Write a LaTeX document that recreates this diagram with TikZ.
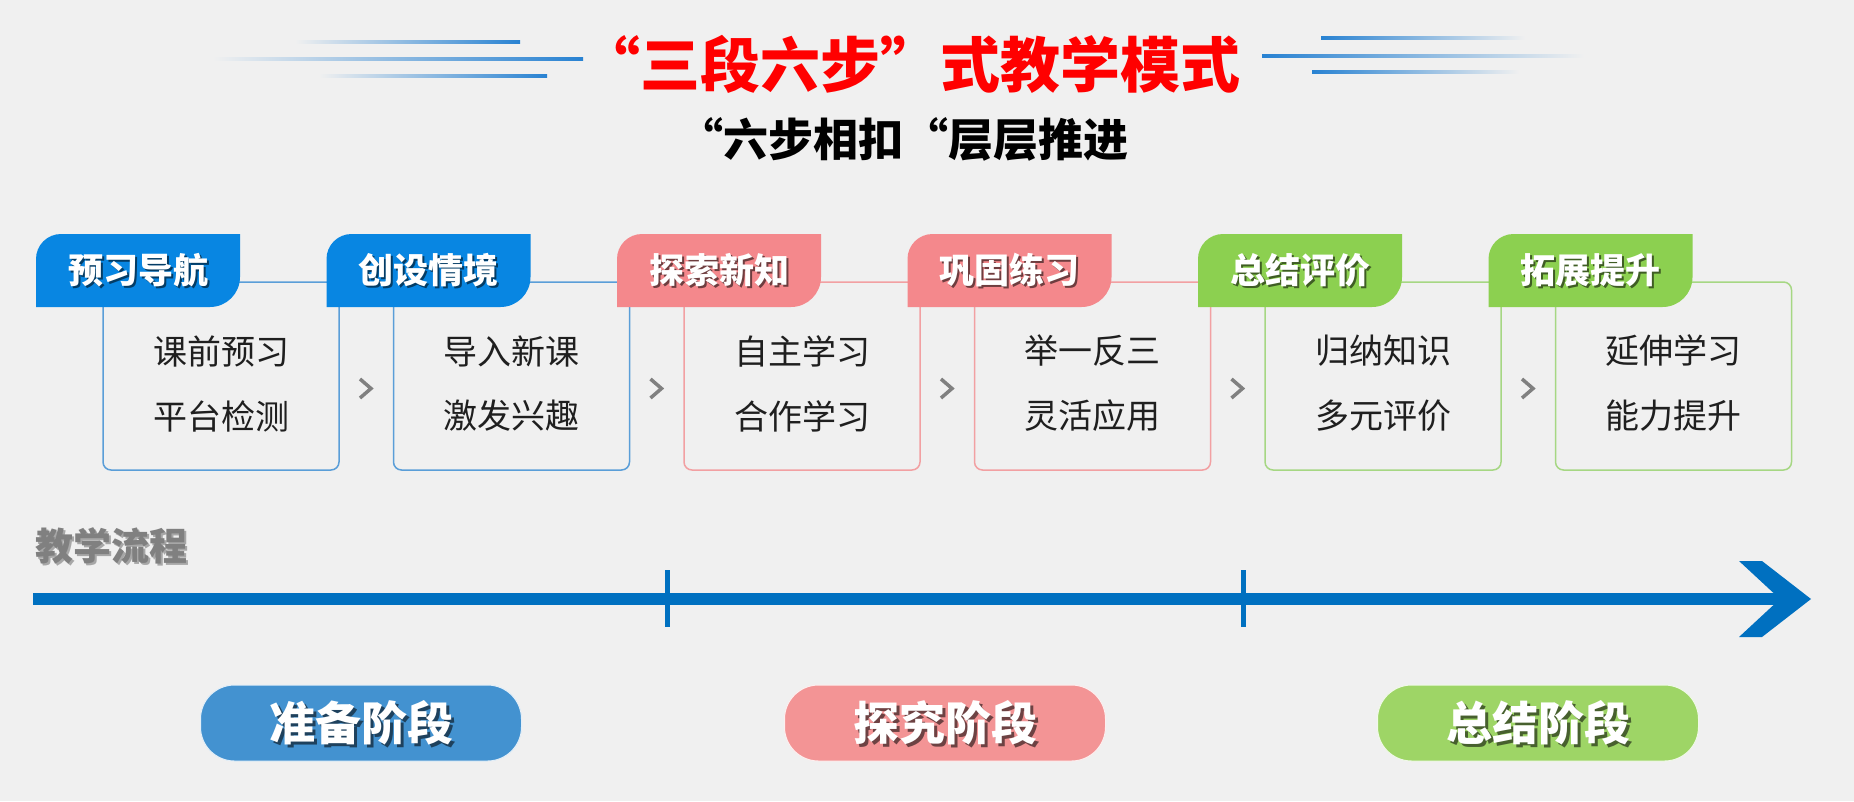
\documentclass[tikz,border=0pt]{standalone}
\usepackage{fontspec}
\newfontfamily\cjk{Noto Sans CJK SC}
\newfontfamily\cjkq{Noto Sans CJK SC}[RawFeature=+fwid]
\usetikzlibrary{calc}
\definecolor{bg}{RGB}{240,240,240}
\definecolor{tabblue}{RGB}{8,134,226}
\definecolor{tabpink}{RGB}{244,136,140}
\definecolor{tabgreen}{RGB}{140,208,80}
\definecolor{lnblue}{RGB}{90,158,216}
\definecolor{lnpink}{RGB}{242,160,162}
\definecolor{lngreen}{RGB}{166,215,131}
\definecolor{pillblue}{RGB}{67,146,208}
\definecolor{pillpink}{RGB}{243,148,149}
\definecolor{pillgreen}{RGB}{158,213,102}
\definecolor{axisblue}{RGB}{0,112,192}
\definecolor{decoblue}{RGB}{40,130,210}
\tikzset{
  txt/.style={inner sep=0pt, outer sep=0pt},
  tabfont/.style={font=\cjk\bfseries\fontsize{35}{35}\selectfont},
  bodyfont/.style={font=\cjk\fontsize{34}{34}\selectfont, text=black!88},
  pillfont/.style={font=\cjk\bfseries\fontsize{46}{46}\selectfont},
  shadowtxt/.style={text=black, text opacity=0.55},
  stepbox/.style={draw, line width=1.5pt, rounded corners=8pt, minimum width=236pt, minimum height=188pt, fill=none},
  pill/.style={minimum width=321pt, minimum height=76pt, rounded corners=34pt},
  chev/.style={draw=black!50, line width=3.5pt, line join=miter},
}
\begin{document}
\begin{tikzpicture}[x=1pt,y=-1pt]
\fill[bg] (0,0) rectangle (1854,801);
\useasboundingbox (0,0) rectangle (1854,801);

% decorative lines
\shade[left color=bg, right color=decoblue] (295,40.5) rectangle (520,43);
\shade[left color=bg, right color=decoblue] (213,57.5) rectangle (583,60);
\shade[left color=bg, right color=decoblue] (319,74.5) rectangle (547,77);
\shade[left color=decoblue, right color=bg] (1321,36.5) rectangle (1525,39);
\shade[left color=decoblue, right color=bg] (1262,54.5) rectangle (1584,57);
\shade[left color=decoblue, right color=bg] (1312,70.5) rectangle (1519,73);

% titles
\node[txt, text=red, font=\cjkq\bfseries\fontsize{60}{60}\selectfont] (title) at (910,64) {“三段六步”式教学模式};
\node[txt, text=black, font=\cjkq\bfseries\fontsize{45}{45}\selectfont] (subtitle) at (903,139) {“六步相扣“层层推进};

% steps
\foreach \i/\col/\tab/\la/\lb in {0/blue/预习导航/课前预习/平台检测,1/blue/创设情境/导入新课/激发兴趣,2/pink/探索新知/自主学习/合作学习,3/pink/巩固练习/举一反三/灵活应用,4/green/总结评价/归纳知识/多元评价,5/green/拓展提升/延伸学习/能力提升}{
  \pgfmathsetmacro\L{36+290.5*\i}
  \node[stepbox, draw=ln\col] (box\i) at (\L+185,376) {};
  \fill[tab\col] (\L,307) -- (\L,259) arc[start angle=180, end angle=90, radius=25pt] -- (\L+204,234) -- (\L+204,277) arc[start angle=0, end angle=-90, radius=30pt] -- cycle;
  \node[txt, tabfont, shadowtxt] (tabsh\i) at (\L+104,272) {\tab};
  \node[txt, tabfont, text=white] (tab\i) at (\L+102,270) {\tab};
  \node[txt, bodyfont] (la\i) at (\L+185,351) {\la};
  \node[txt, bodyfont] (lb\i) at (\L+185,416) {\lb};
}
\foreach \i in {0,...,4}{
  \pgfmathsetmacro\L{36+290.5*\i}
  \draw[chev] (\L+324,379) -- (\L+335,388.5) -- (\L+324,398);
}

% timeline
\node[txt, font=\cjk\bfseries\fontsize{38}{38}\selectfont, shadowtxt, text opacity=0.3] (flowsh) at (113,548) {教学流程};
\node[txt, font=\cjk\bfseries\fontsize{38}{38}\selectfont, text=black!50] (flow) at (111,546) {教学流程};
\coordinate (ax0) at (33,598.5);
\coordinate (axend) at (1781,598.5);
\draw[axisblue, line width=12pt] (ax0) -- (axend);
\fill[axisblue] (1739,561) -- (1762,561) -- (1811,599) -- (1762,637) -- (1739,637) -- (1780,599) -- cycle;
\draw[axisblue, line width=5pt] (667,570) -- (667,627);
\draw[axisblue, line width=5pt] (1243,570) -- (1243,627);

% phases
\foreach \n/\x/\col/\t in {1/361/blue/准备阶段,2/945/pink/探究阶段,3/1538/green/总结阶段}{
  \node[pill, fill=pill\col, draw=white!85!pill\col, line width=1pt] (pill\n) at (\x,723) {};
  \node[txt, pillfont, shadowtxt] (pillsh\n) at (\x+3,726) {\t};
  \node[txt, pillfont, text=white] (pillt\n) at (\x,723) {\t};
}
\end{tikzpicture}
\end{document}
